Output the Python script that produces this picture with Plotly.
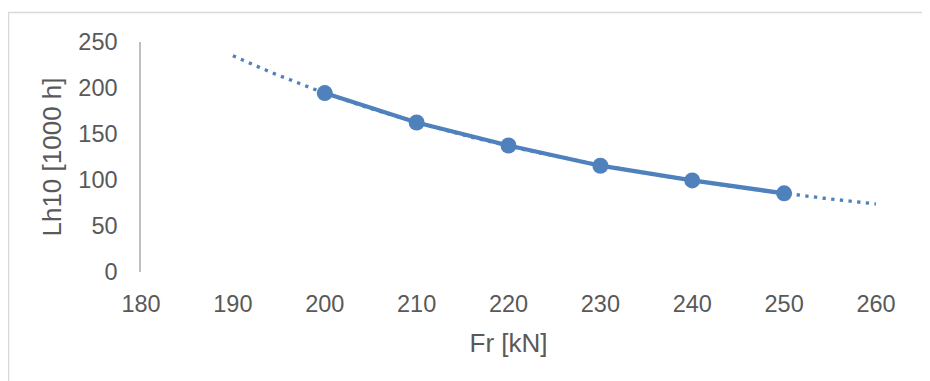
import numpy as np
import plotly.graph_objects as go

# Data
fr_kn = [200, 210, 220, 230, 240, 250]
lh10_1000h = [194.5, 162.5, 137.5, 115.5, 99.5, 85.5]
x_ticks = [180, 190, 200, 210, 220, 230, 240, 250, 260]
y_ticks = [0, 50, 100, 150, 200, 250]
trend_range = [190, 260]  # power trendline, forecast 10 back / 10 forward

color = "#4F81BD"
font_family = "Liberation Sans, Arial, sans-serif"

# Power trendline (least squares in log space, as Excel does)
b, ln_a = np.polyfit(np.log(fr_kn), np.log(lh10_1000h), 1)
tx = np.linspace(trend_range[0], trend_range[1], 200)
ty = np.exp(ln_a) * tx ** b

fig = go.Figure()
fig.add_trace(go.Scatter(
    x=fr_kn, y=lh10_1000h, mode="lines+markers",
    line=dict(color=color, width=4.3),
    marker=dict(color=color, size=16),
    showlegend=False, hoverinfo="x+y",
))
fig.add_trace(go.Scatter(
    x=tx, y=ty, mode="lines",
    line=dict(color=color, width=3.3, dash="3.3px,5.4px"),
    showlegend=False, hoverinfo="skip",
))

W, H = 922, 373
L, T, PW, PH = 133, 34, 735, 230

fig.update_layout(
    width=W, height=H,
    margin=dict(l=L, r=W - L - PW, t=T, b=H - T - PH),
    paper_bgcolor="white", plot_bgcolor="white",
    font=dict(family=font_family, size=23.5, color="#595959"),
    xaxis=dict(
        range=[180, 260], tickvals=x_ticks, showgrid=False, zeroline=False,
        showline=False, ticks="", ticklabelstandoff=15,
        title=dict(text="Fr [kN]", font=dict(size=26, color="#595959"), standoff=18),
    ),
    yaxis=dict(
        range=[0, 250], tickvals=y_ticks, showgrid=False, zeroline=False,
        showline=True, linecolor="#BFBFBF", linewidth=1.5, ticks="",
        ticklabelstandoff=17,
        title=dict(text="Lh10 [1000 h]", font=dict(size=26, color="#595959"), standoff=9),
    ),
    shapes=[dict(
        type="rect", xref="paper", yref="paper",
        x0=(0.5 - L) / PW, x1=(W + 20 - L) / PW,
        y0=(PH + T - H - 30) / PH, y1=(PH + T - 4.5) / PH,
        line=dict(color="#D9D9D9", width=1.5), fillcolor="rgba(0,0,0,0)",
        layer="below",
    )],
)

fig.write_html("out.html")
